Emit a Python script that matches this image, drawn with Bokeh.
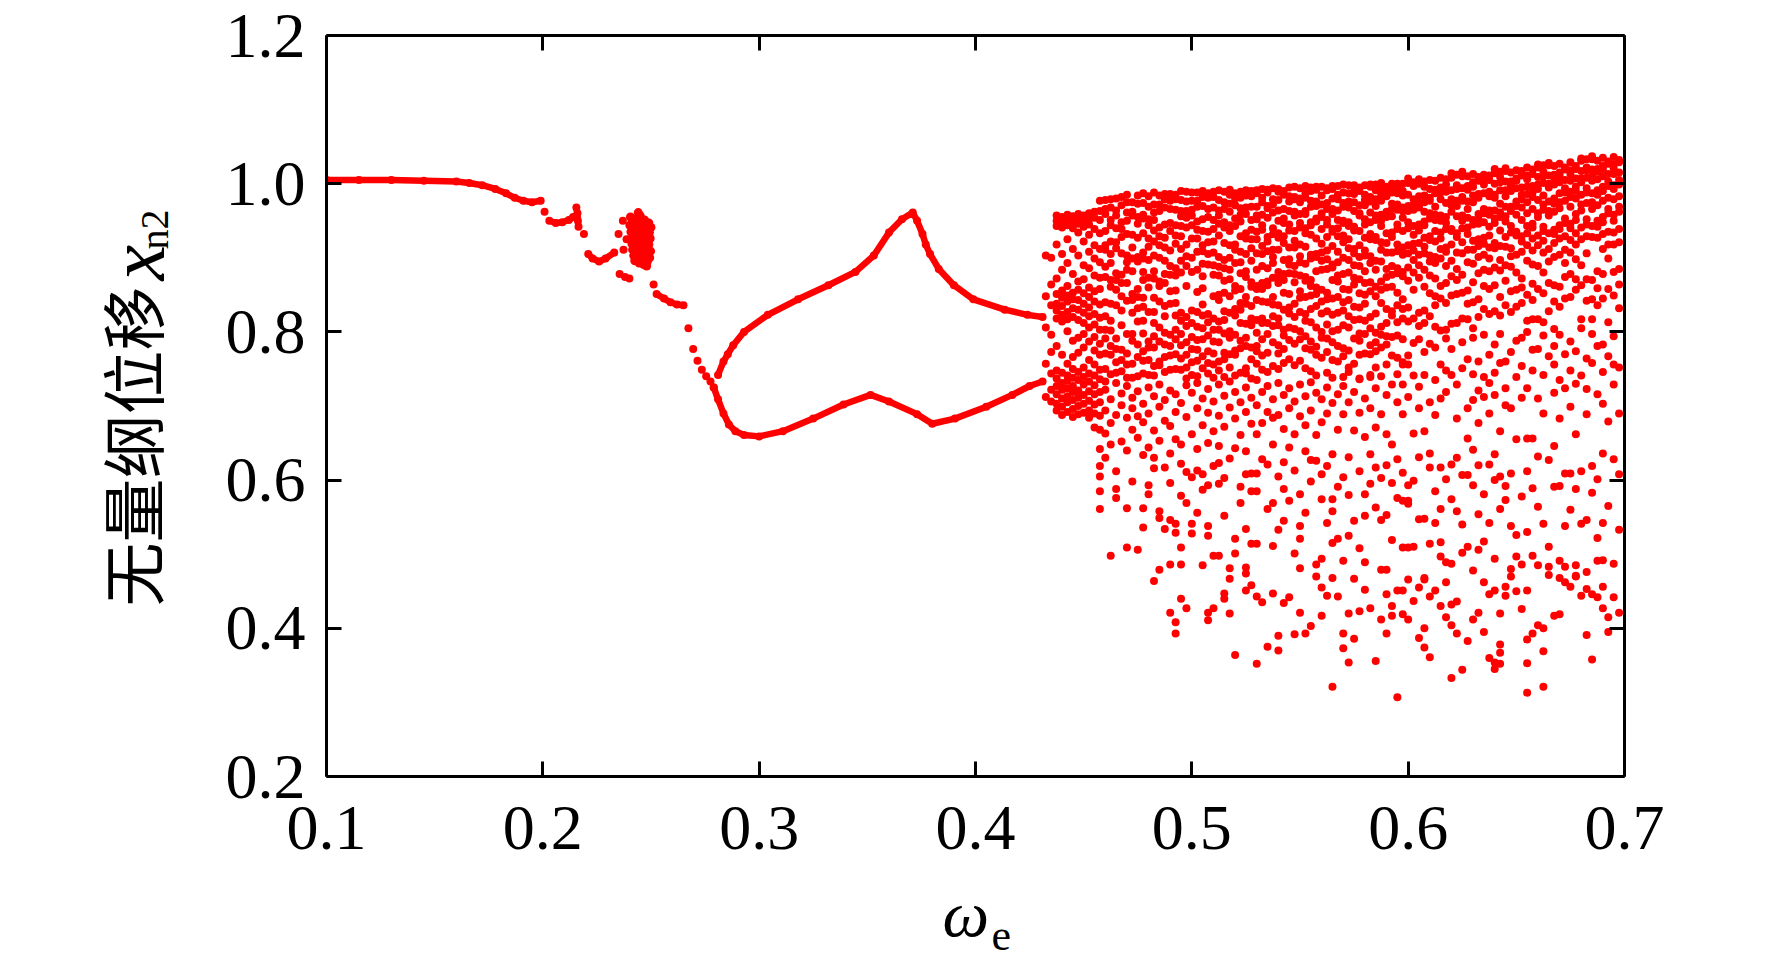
import math
from bokeh.plotting import figure
from bokeh.models import Range1d, FixedTicker, LinearAxis
from bokeh.layouts import row, column
from bokeh.core.properties import value
from bokeh.embed import file_html
from bokeh.resources import INLINE

# ---------------- data ----------------
x_ticks = [0.1, 0.2, 0.3, 0.4, 0.5, 0.6, 0.7]
x_tick_labels = ["0.1", "0.2", "0.3", "0.4", "0.5", "0.6", "0.7"]
y_ticks = [0.2, 0.4, 0.6, 0.8, 1.0, 1.2]
y_tick_labels = ["0.2", "0.4", "0.6", "0.8", "1.0", "1.2"]

# period-1 branch
p1_x = [0.100, 0.115, 0.130, 0.145, 0.160, 0.166, 0.172, 0.178, 0.183, 0.187, 0.191, 0.195, 0.199]
p1_y = [1.005, 1.005, 1.005, 1.004, 1.003, 1.001, 0.998, 0.993, 0.987, 0.981, 0.977, 0.975, 0.977]

# short pieces between 0.20 and 0.27
seg1_x = [0.203, 0.206, 0.209, 0.212, 0.214]
seg1_y = [0.950, 0.947, 0.948, 0.951, 0.955]
seg2_x = [0.2155, 0.2160, 0.2162, 0.2165]
seg2_y = [0.968, 0.960, 0.950, 0.942]
seg3_x = [0.221, 0.223, 0.226, 0.229, 0.233]
seg3_y = [0.905, 0.899, 0.895, 0.899, 0.907]
seg4_x = [0.2526, 0.256, 0.259, 0.262, 0.265]
seg4_y = [0.851, 0.845, 0.840, 0.837, 0.836]

dots_x = [0.2008, 0.219, 0.2370, 0.2350, 0.2387, 0.2373, 0.2355, 0.2380, 0.2400, 0.2512,
          0.2673, 0.2695, 0.2715, 0.2735, 0.2755, 0.2775, 0.2790]
dots_y = [0.962, 0.932, 0.950, 0.932, 0.925, 0.911, 0.878, 0.874, 0.872, 0.864,
          0.805, 0.777, 0.761, 0.749, 0.740, 0.733, 0.725]

blob_x = [0.2405, 0.2426, 0.2448, 0.2470, 0.2490, 0.2500, 0.2441,
          0.2402, 0.2424, 0.2451, 0.2472, 0.2493,
          0.2407, 0.2430, 0.2449, 0.2468, 0.2496,
          0.2410, 0.2428, 0.2453, 0.2475, 0.2490,
          0.2412, 0.2434, 0.2456, 0.2471, 0.2498,
          0.2415, 0.2437, 0.2458, 0.2479, 0.2494,
          0.2420, 0.2440, 0.2462, 0.2482,
          0.2425, 0.2445, 0.2466, 0.2480,
          0.2432, 0.2450, 0.2470]
blob_y = [0.955, 0.952, 0.949, 0.951, 0.947, 0.941, 0.961,
          0.944, 0.943, 0.940, 0.938, 0.934,
          0.935, 0.933, 0.931, 0.929, 0.926,
          0.927, 0.925, 0.922, 0.920, 0.918,
          0.919, 0.916, 0.913, 0.911, 0.909,
          0.911, 0.908, 0.905, 0.903, 0.900,
          0.903, 0.899, 0.897, 0.894,
          0.896, 0.893, 0.891, 0.889,
          0.951, 0.957, 0.944]

# period-2 branches
up_x = [0.281, 0.2835, 0.2855, 0.288, 0.293, 0.304, 0.318, 0.332, 0.3445, 0.353, 0.360, 0.366,
        0.371, 0.373, 0.3755, 0.377, 0.379, 0.383, 0.390, 0.399, 0.4135, 0.424, 0.431]
up_y = [0.742, 0.760, 0.770, 0.782, 0.800, 0.823, 0.844, 0.863, 0.881, 0.903, 0.934, 0.952,
        0.961, 0.950, 0.932, 0.918, 0.905, 0.885, 0.863, 0.844, 0.830, 0.823, 0.820]
lo_x = [0.279, 0.281, 0.2835, 0.286, 0.289, 0.293, 0.300, 0.311, 0.325, 0.339, 0.3515, 0.360,
        0.373, 0.380, 0.3905, 0.405, 0.417, 0.425, 0.431]
lo_y = [0.725, 0.709, 0.690, 0.675, 0.666, 0.661, 0.659, 0.666, 0.683, 0.702, 0.715, 0.706,
        0.689, 0.676, 0.683, 0.699, 0.715, 0.727, 0.733]

# chaotic region: y values (x1000) per omega column
chaos_a_x = [0.4325, 0.435, 0.4375, 0.44, 0.4425, 0.445, 0.4475, 0.45, 0.4525, 0.455, 0.4575]
chaos_a_y = [
    [903, 848, 806, 757, 712],
    [900, 864, 836, 796, 773, 744, 722, 706],
    [957, 950, 943, 918, 872, 851, 838, 829, 818, 781, 748, 737, 727, 716, 703, 694],
    [955, 948, 941, 905, 884, 856, 846, 835, 823, 814, 769, 745, 731, 722, 710, 699, 688],
    [958, 952, 944, 925, 893, 862, 849, 841, 827, 817, 801, 757, 741, 734, 724, 713, 705, 692],
    [956, 949, 940, 912, 878, 853, 844, 832, 820, 788, 766, 750, 738, 727, 719, 708, 696, 685],
    [959, 953, 946, 934, 903, 868, 857, 843, 830, 816, 792, 772, 746, 735, 721, 711, 700, 689],
    [957, 950, 942, 922, 890, 871, 852, 838, 826, 812, 797, 779, 752, 739, 729, 715, 703, 691],
    [960, 952, 945, 931, 908, 886, 860, 847, 833, 821, 806, 787, 762, 744, 733, 720, 707, 694, 684],
    [962, 954, 939, 917, 899, 876, 855, 841, 824, 810, 793, 775, 756, 741, 728, 716, 702, 690, 671],
    [977, 963, 951, 933, 912, 894, 873, 858, 837, 819, 803, 784, 769, 749, 736, 719, 705, 687, 668,
     642, 619, 605, 585, 561],
]

chaos_b_x = [0.46, 0.4625, 0.465, 0.4675, 0.47, 0.4725, 0.475, 0.4775, 0.48, 0.4825, 0.485, 0.4875,
             0.49, 0.4925, 0.495, 0.4975, 0.50, 0.5025, 0.505, 0.5075, 0.51, 0.5125, 0.515, 0.5175,
             0.52, 0.5225, 0.525, 0.5275]
chaos_b_upper = [
    [978, 966, 959, 936, 917, 911, 888, 874, 840, 821, 803, 791, 771, 750, 733],
    [979, 968, 951, 944, 922, 905, 893, 870, 861, 838, 815, 802, 781, 769, 743],
    [980, 964, 957, 940, 921, 913, 879, 870, 857, 836, 791, 777, 759, 745],
    [982, 971, 948, 939, 928, 906, 877, 866, 848, 829, 809, 776, 762, 747],
    [985, 975, 961, 950, 932, 903, 894, 884, 866, 842, 797, 771, 756, 738],
    [975, 962, 957, 931, 914, 899, 882, 851, 843, 826, 797, 788, 757, 738],
    [984, 973, 955, 946, 927, 901, 895, 858, 847, 832, 814, 783, 766, 740],
    [987, 974, 958, 953, 933, 907, 899, 881, 870, 846, 834, 815, 798, 774, 761, 744],
    [983, 969, 952, 944, 926, 915, 897, 873, 860, 827, 787, 779, 762, 742],
    [988, 972, 961, 951, 937, 922, 903, 882, 872, 846, 827, 812, 794, 779, 754, 741],
    [984, 972, 963, 941, 929, 917, 900, 868, 862, 841, 806, 787, 760, 755],
    [986, 979, 968, 945, 927, 914, 896, 878, 866, 835, 821, 799, 783, 766, 746],
    [986, 977, 966, 947, 936, 910, 889, 877, 855, 838, 796, 781, 768, 749],
    [985, 979, 965, 944, 930, 919, 886, 876, 856, 839, 822, 803, 790, 770, 750],
    [990, 978, 963, 956, 943, 929, 912, 896, 880, 826, 815, 797, 782, 764, 749],
    [989, 976, 963, 954, 941, 918, 902, 889, 862, 820, 808, 786, 769, 752, 737],
    [988, 977, 965, 957, 944, 926, 900, 881, 829, 812, 793, 777, 759, 742],
    [988, 977, 969, 949, 938, 926, 908, 884, 854, 827, 807, 789, 776, 761, 740],
    [990, 982, 970, 952, 936, 917, 909, 892, 875, 859, 837, 822, 805, 790, 767, 751],
    [987, 981, 966, 955, 935, 921, 905, 891, 824, 813, 795, 774, 758, 744],
    [989, 982, 968, 951, 939, 922, 907, 890, 877, 848, 818, 803, 787, 771, 756, 738],
    [991, 978, 964, 957, 946, 930, 901, 888, 876, 850, 843, 814, 803, 786, 760, 748],
    [989, 975, 966, 948, 941, 920, 897, 886, 869, 853, 828, 816, 798, 772, 763, 739],
    [992, 985, 973, 962, 944, 936, 917, 900, 884, 871, 848, 826, 801, 792, 770, 752],
    [987, 980, 971, 953, 943, 918, 911, 893, 862, 856, 831, 822, 796, 775, 769, 741],
    [989, 981, 967, 958, 949, 929, 908, 894, 879, 858, 839, 830, 812, 788, 778, 745],
    [991, 984, 968, 959, 933, 926, 905, 882, 874, 847, 838, 811, 792, 781, 751, 744],
    [990, 983, 969, 951, 938, 925, 913, 896, 867, 861, 835, 818, 809, 779, 763, 737],
]
chaos_b_lower = [
    [722, 694, 663, 630], [709, 677, 498, 648], [731, 688, 588, 576, 612], [717, 652, 701],
    [727, 684, 562, 509, 640], [711, 668, 697, 598], [720, 686, 506, 657],
    [703, 634, 562, 536, 678], [725, 690, 593, 581, 644], [713, 667, 616, 630, 464],
    [729, 699, 558, 549, 479, 653], [708, 617, 534, 680], [721, 673, 546, 421, 486, 636, 596],
    [716, 692, 541, 529, 408, 393, 655], [704, 579, 509, 486, 440, 648, 622],
    [728, 685, 569, 427, 611], [718, 541, 528, 662, 604], [731, 697, 556, 613, 642],
    [710, 674, 608, 485, 587], [723, 691, 593, 538, 525, 421, 411, 650],
    [706, 666, 498, 427, 619], [729, 687, 623, 595, 498, 646], [714, 672, 552, 447, 440, 603],
    [733, 698, 420, 481, 467, 629], [719, 683, 643, 521, 501, 364], [705, 661, 569, 591],
    [725, 692, 608, 482, 474, 451, 534, 639], [711, 676, 585, 514, 458, 609],
]

chaos_c_x = [0.53, 0.5325, 0.535, 0.5375, 0.54, 0.5425, 0.545, 0.5475, 0.55, 0.5525, 0.555, 0.5575,
             0.56, 0.5625, 0.565, 0.5675, 0.57, 0.5725, 0.575, 0.5775, 0.58, 0.5825, 0.585, 0.5875,
             0.59, 0.5925, 0.595, 0.5975]
chaos_c_upper = [
    [991, 987, 969, 957, 952, 935, 925, 906, 884, 862, 858, 843, 816, 799, 781, 774, 757],
    [993, 981, 975, 958, 944, 938, 916, 905, 889, 866, 858, 841, 818, 812, 790, 768, 749],
    [992, 988, 970, 967, 954, 928, 922, 909, 886, 868, 863, 840, 812, 797, 772, 746],
    [994, 979, 972, 961, 940, 932, 911, 901, 893, 873, 847, 837, 821, 808, 786, 754],
    [993, 989, 978, 964, 950, 933, 927, 911, 881, 872, 866, 836, 818, 809, 782, 771, 750],
    [990, 985, 966, 953, 947, 929, 920, 897, 878, 870, 853, 830, 803, 795, 777, 758],
    [995, 983, 976, 963, 945, 937, 914, 898, 891, 879, 851, 833, 825, 806, 789, 763],
    [996, 982, 979, 962, 957, 936, 923, 914, 889, 878, 867, 838, 820, 804, 784, 755],
    [994, 980, 975, 959, 947, 941, 918, 902, 894, 876, 855, 846, 827, 801, 790, 761],
    [997, 987, 981, 963, 959, 940, 933, 915, 892, 874, 869, 847, 824, 815, 794, 778, 751],
    [995, 990, 977, 969, 948, 944, 931, 904, 899, 870, 862, 849, 831, 813, 787, 776, 747],
    [996, 992, 976, 970, 953, 949, 926, 905, 901, 882, 860, 851, 835, 806, 780, 769, 741],
    [996, 984, 972, 960, 955, 939, 919, 907, 896, 884, 857, 841, 825, 800, 792, 765],
    [994, 991, 974, 966, 951, 945, 928, 910, 898, 885, 853, 844, 828, 810, 791, 773, 745],
    [997, 993, 980, 966, 959, 939, 935, 916, 891, 887, 870, 845, 823, 801, 786, 762],
    [997, 985, 979, 964, 951, 940, 929, 908, 894, 876, 868, 847, 826, 803, 781, 760],
    [999, 988, 974, 969, 950, 947, 930, 921, 900, 878, 858, 840, 829, 809, 778, 767, 739],
    [998, 987, 976, 968, 948, 943, 925, 913, 897, 880, 857, 843, 821, 806, 775, 752],
    [998, 995, 986, 975, 963, 942, 937, 912, 906, 890, 873, 864, 834, 816, 791, 757],
    [995, 990, 971, 960, 957, 936, 917, 901, 889, 871, 852, 833, 817, 798, 788, 769, 736],
    [998, 985, 978, 971, 952, 945, 927, 910, 903, 882, 866, 850, 838, 815, 797, 771],
    [999, 996, 982, 976, 961, 948, 932, 925, 902, 893, 867, 855, 820, 805, 782, 770, 742],
    [999, 991, 979, 970, 957, 951, 928, 924, 896, 884, 861, 848, 825, 799, 786, 774, 752],
    [1001, 995, 985, 977, 958, 950, 943, 921, 911, 895, 868, 857, 839, 807, 796, 779],
    [996, 992, 983, 962, 955, 933, 920, 907, 885, 874, 860, 831, 812, 794, 783, 756],
    [1000, 997, 988, 973, 966, 956, 934, 928, 907, 889, 877, 861, 828, 822, 793, 768],
    [1000, 994, 987, 972, 965, 945, 939, 918, 909, 886, 879, 853, 836, 813, 795, 765],
    [1000, 990, 984, 968, 963, 954, 936, 914, 904, 881, 875, 844, 831, 818, 790, 759],
]
chaos_c_lower = [
    [735, 701, 585, 514, 609, 443, 352, 662], [719, 677, 435, 628], [727, 692, 621, 375, 561],
    [709, 648, 569, 447, 511, 684], [731, 688, 605, 370, 390, 533], [715, 669, 588, 545, 434, 624],
    [724, 697, 644, 442, 572], [706, 662, 392, 501, 613], [729, 686, 581, 538, 521, 421, 481],
    [713, 674, 639, 393, 556], [732, 694, 403, 598, 627], [718, 626, 486, 470, 661],
    [709, 678, 608, 574, 494, 417, 455], [725, 690, 444, 542, 619],
    [738, 704, 635, 558, 515, 321, 574, 468], [716, 668, 521, 443, 591],
    [727, 689, 491, 393, 373, 604], [746, 705, 631, 525, 420, 354, 580], [719, 667, 467, 386, 545],
    [737, 691, 612, 423, 508], [710, 658, 581, 552, 489, 452], [739, 697, 635, 427, 595],
    [724, 671, 617, 356, 563], [740, 689, 603, 546, 412, 479], [715, 662, 620, 553, 479, 393, 446],
    [729, 596, 519, 417, 430, 648], [743, 705, 576, 451, 307, 628],
    [756, 729, 689, 572, 509, 419, 451, 610],
]

chaos_d_x = [0.60, 0.6025, 0.605, 0.6075, 0.61, 0.6125, 0.615, 0.6175, 0.62, 0.6225, 0.625, 0.6275,
             0.63, 0.6325, 0.635, 0.6375, 0.64, 0.6425, 0.645, 0.6475, 0.65, 0.6525, 0.655, 0.6575,
             0.66, 0.6625, 0.665, 0.6675, 0.67, 0.6725, 0.675, 0.6775, 0.68, 0.6825, 0.685, 0.6875,
             0.69, 0.6925, 0.695, 0.6975]
chaos_d_upper = [
    [1007, 1001, 985, 970, 963, 948, 940, 917, 906, 887, 869, 833, 814],
    [1002, 997, 979, 972, 965, 943, 931, 919, 910, 897, 880, 857, 818],
    [1006, 1000, 983, 973, 968, 945, 937, 920, 904, 890, 873, 826, 808],
    [1003, 996, 984, 975, 962, 949, 944, 927, 915, 906, 884, 861, 829, 812],
    [1005, 993, 981, 977, 960, 953, 929, 924, 903, 895, 876, 852, 821],
    [1004, 992, 987, 969, 958, 951, 936, 922, 901, 893, 872, 848, 836, 807],
    [1008, 995, 988, 979, 957, 950, 934, 926, 912, 899, 862, 845, 802],
    [1006, 999, 989, 974, 955, 947, 939, 914, 908, 889, 866, 839, 803],
    [1014, 1008, 991, 979, 971, 962, 939, 936, 918, 896, 875, 849, 811],
    [1012, 998, 993, 977, 970, 956, 933, 928, 907, 885, 870, 851, 812],
    [1016, 1010, 994, 982, 977, 957, 950, 940, 921, 906, 877, 853, 818],
    [1010, 997, 992, 976, 966, 954, 941, 932, 911, 894, 856, 838, 817],
    [1013, 1002, 996, 984, 975, 951, 945, 923, 911, 892, 867, 840, 805],
    [1009, 1004, 986, 981, 959, 952, 946, 925, 916, 901, 879, 844, 820],
    [1012, 1004, 999, 987, 966, 960, 948, 927, 919, 904, 884, 862, 831, 796],
    [1011, 1005, 989, 983, 964, 958, 942, 930, 914, 899, 882, 858, 824],
    [1020, 1014, 1000, 985, 981, 964, 953, 947, 920, 913, 887, 863, 828],
    [1016, 1009, 1002, 991, 973, 961, 955, 937, 916, 897, 883, 847, 822],
    [1021, 1017, 1003, 991, 983, 969, 956, 949, 928, 915, 890, 869, 836],
    [1015, 1003, 998, 990, 969, 963, 943, 934, 913, 902, 888, 855, 827],
    [1018, 1007, 1004, 994, 976, 970, 958, 935, 930, 904, 880, 857, 834],
    [1017, 1011, 995, 985, 979, 968, 951, 929, 922, 908, 872, 860, 839],
    [1022, 1011, 1006, 996, 986, 975, 960, 943, 933, 917, 896, 850, 815, 800],
    [1019, 1013, 997, 988, 982, 966, 946, 941, 926, 910, 891, 865, 843, 817],
    [1026, 1022, 1009, 999, 993, 978, 960, 955, 930, 917, 889, 858, 817],
    [1025, 1016, 1010, 1001, 984, 972, 965, 942, 936, 923, 907, 880, 852, 813],
    [1028, 1025, 1011, 1000, 995, 976, 963, 957, 933, 912, 895, 866, 828],
    [1024, 1012, 1008, 999, 980, 973, 962, 938, 932, 920, 901, 863, 841, 804],
    [1027, 1015, 1011, 1002, 987, 975, 967, 944, 939, 926, 904, 861, 834],
    [1022, 1019, 1005, 994, 988, 977, 953, 947, 929, 911, 893, 874, 845],
    [1029, 1018, 1013, 1004, 989, 982, 969, 946, 940, 924, 907, 878, 847],
    [1024, 1020, 1007, 996, 990, 980, 959, 951, 933, 918, 898, 871, 857],
    [1034, 1031, 1017, 1007, 1002, 985, 972, 964, 941, 925, 890, 863, 817],
    [1033, 1022, 1018, 1008, 994, 988, 974, 952, 945, 929, 906, 871, 842],
    [1037, 1033, 1019, 1010, 1004, 987, 975, 966, 943, 928, 870, 844, 817],
    [1031, 1020, 1016, 1006, 991, 985, 971, 950, 942, 927, 882, 859, 836],
    [1035, 1024, 1020, 1010, 996, 990, 977, 955, 948, 932, 912, 878, 845],
    [1030, 1027, 1013, 1003, 997, 981, 966, 960, 935, 918, 899, 858, 813],
    [1036, 1026, 1021, 1013, 998, 993, 979, 958, 950, 934, 918, 881, 849],
    [1032, 1029, 1015, 1005, 999, 983, 969, 962, 939, 921, 885, 864, 832],
]
chaos_d_lower = [
    [768, 756, 712, 593, 572, 568, 509, 466, 412], [785, 741, 663, 599, 510, 437],
    [790, 726, 697, 631, 547, 455, 387], [773, 742, 666, 548, 466, 468, 400, 374],
    [784, 705, 636, 617, 514, 443, 361], [779, 735, 688, 585, 542, 451],
    [756, 710, 617, 516, 561, 497, 430], [791, 748, 719, 489, 601, 462, 415],
    [777, 742, 621, 574, 487, 432, 333, 404], [729, 683, 630, 558, 436, 393],
    [786, 751, 502, 607, 344, 540], [763, 697, 656, 510, 607, 383],
    [792, 743, 708, 641, 478, 593, 412], [760, 721, 677, 554, 506, 620, 421],
    [739, 712, 581, 517, 395, 462], [769, 731, 690, 621, 542, 446, 360],
    [783, 715, 745, 635, 600, 494, 451, 354, 345], [797, 758, 666, 561, 420, 378, 367, 352, 605],
    [760, 724, 701, 592, 573, 456, 444], [773, 697, 609, 538, 480, 470],
    [788, 739, 450, 526, 497, 655], [792, 754, 711, 486, 426, 578],
    [724, 612, 451, 385, 353, 313, 530, 656], [776, 748, 656, 498, 393, 589],
    [777, 710, 632, 485, 564, 404], [795, 742, 690, 400, 369, 321, 541],
    [767, 627, 483, 510, 472], [756, 781, 718, 646, 417, 591],
    [796, 683, 735, 491, 468, 592, 419], [724, 770, 483, 538, 609, 462],
    [787, 748, 699, 456, 609, 560], [774, 662, 730, 588, 485, 471, 470],
    [805, 741, 612, 444, 541], [764, 689, 723, 546, 476, 453, 391],
    [797, 758, 583, 619, 446, 358], [781, 716, 522, 491, 442, 601],
    [783, 746, 703, 636, 542, 492, 456, 427], [767, 679, 565, 415, 395],
    [794, 729, 756, 628, 487, 442], [752, 690, 533, 421, 608],
]

# ---------------- geometry ----------------
RED = "#ff0000"
YLAB_W = 190
MAIN_LEFT, MAIN_TOP, MAIN_BOTTOM, MAIN_RIGHT = 136, 35, 95, 132
FRAME_W, FRAME_H = 1298, 741
MAIN_H = MAIN_TOP + FRAME_H + MAIN_BOTTOM
TOTAL_W = YLAB_W + MAIN_LEFT + FRAME_W + MAIN_RIGHT
XLAB_H = 965 - MAIN_H

p = figure(frame_width=FRAME_W, frame_height=FRAME_H,
           x_range=Range1d(0.1, 0.7), y_range=Range1d(0.2, 1.2),
           output_backend="svg", toolbar_location=None,
           min_border_left=MAIN_LEFT, min_border_right=MAIN_RIGHT,
           min_border_top=MAIN_TOP, min_border_bottom=MAIN_BOTTOM,
           background_fill_color="white", border_fill_color="white")
p.grid.visible = False
p.outline_line_color = None


def style_axis(ax, ticks, labels, show_labels):
    ax.ticker = FixedTicker(ticks=ticks)
    ax.axis_line_width = 3
    ax.axis_line_color = "black"
    ax.major_tick_line_width = 3
    ax.major_tick_line_color = "black"
    ax.major_tick_in = 15
    ax.major_tick_out = 0
    ax.minor_tick_line_color = None
    ax.major_label_text_font = "Liberation Serif"
    ax.major_label_text_font_size = "64px"
    ax.major_label_text_color = "black"
    if show_labels:
        ax.major_label_overrides = {t: s for t, s in zip(ticks, labels)}
    else:
        ax.major_label_overrides = {t: "" for t in ticks}


style_axis(p.xaxis[0], x_ticks, x_tick_labels, True)
style_axis(p.yaxis[0], y_ticks, y_tick_labels, True)
p.xaxis[0].major_label_standoff = 30
p.yaxis[0].major_label_standoff = 21

top_ax = LinearAxis()
right_ax = LinearAxis()
style_axis(top_ax, x_ticks, x_tick_labels, False)
style_axis(right_ax, y_ticks, y_tick_labels, False)
top_ax.major_label_standoff = 0
right_ax.major_label_standoff = 0
p.add_layout(top_ax, "above")
p.add_layout(right_ax, "right")

# chaotic region points
cx, cy = [], []
for xs, cols in [(chaos_a_x, chaos_a_y),
                 (chaos_b_x, chaos_b_upper), (chaos_b_x, chaos_b_lower),
                 (chaos_c_x, chaos_c_upper), (chaos_c_x, chaos_c_lower),
                 (chaos_d_x, chaos_d_upper), (chaos_d_x, chaos_d_lower)]:
    for x, col in zip(xs, cols):
        for v in col:
            cx.append(x)
            cy.append(v / 1000.0)

DOT = 8
LW = 6.5
for xs, ys in [(p1_x, p1_y), (seg1_x, seg1_y), (seg2_x, seg2_y), (seg3_x, seg3_y),
               (seg4_x, seg4_y), (up_x, up_y), (lo_x, lo_y)]:
    p.line(xs, ys, line_color=RED, line_width=LW, line_cap="round", line_join="round")
    p.scatter(xs, ys, size=DOT, fill_color=RED, line_color=None)

p.scatter(dots_x, dots_y, size=DOT, fill_color=RED, line_color=None)
p.scatter(blob_x, blob_y, size=DOT + 1, fill_color=RED, line_color=None)
p.scatter(cx, cy, size=DOT, fill_color=RED, line_color=None)

# ---------------- axis titles (separate text panels) ----------------
ylab = figure(frame_width=YLAB_W, frame_height=MAIN_H,
              x_range=Range1d(0, YLAB_W), y_range=Range1d(0, MAIN_H),
              output_backend="svg", toolbar_location=None, min_border=0,
              x_axis_location=None, y_axis_location=None,
              background_fill_color="white", border_fill_color="white")
ylab.grid.visible = False
ylab.outline_line_color = None
ylab.text(x=[129], y=[300], text=["无量纲位移"], angle=math.pi / 2,
          text_font=value("Noto Sans CJK SC"), text_font_size=value("64px"),
          text_align="left", text_baseline="alphabetic", text_color="black")
ylab.text(x=[136], y=[626], text=["x"], angle=math.pi / 2,
          text_font=value("Liberation Serif"), text_font_style="italic",
          text_font_size=value("80px"),
          text_align="left", text_baseline="alphabetic", text_color="black")
ylab.text(x=[154], y=[657], text=["n2"], angle=math.pi / 2,
          text_font=value("Liberation Serif"), text_font_size=value("40px"),
          text_align="left", text_baseline="alphabetic", text_color="black")

xlab = figure(frame_width=TOTAL_W, frame_height=XLAB_H,
              x_range=Range1d(0, TOTAL_W), y_range=Range1d(0, XLAB_H),
              output_backend="svg", toolbar_location=None, min_border=0,
              x_axis_location=None, y_axis_location=None,
              background_fill_color="white", border_fill_color="white")
xlab.grid.visible = False
xlab.outline_line_color = None
xlab.text(x=[942], y=[52], text=["ω"],
          text_font=value("Liberation Serif"), text_font_style="italic",
          text_font_size=value("66px"),
          text_align="left", text_baseline="alphabetic", text_color="black")
xlab.text(x=[991], y=[30], text=["e"],
          text_font=value("Liberation Serif"), text_font_size=value("44px"),
          text_align="left", text_baseline="alphabetic", text_color="black")

page = column(row(ylab, p, spacing=0), xlab, spacing=0)
open("out.html", "w").write(file_html(page, INLINE))
